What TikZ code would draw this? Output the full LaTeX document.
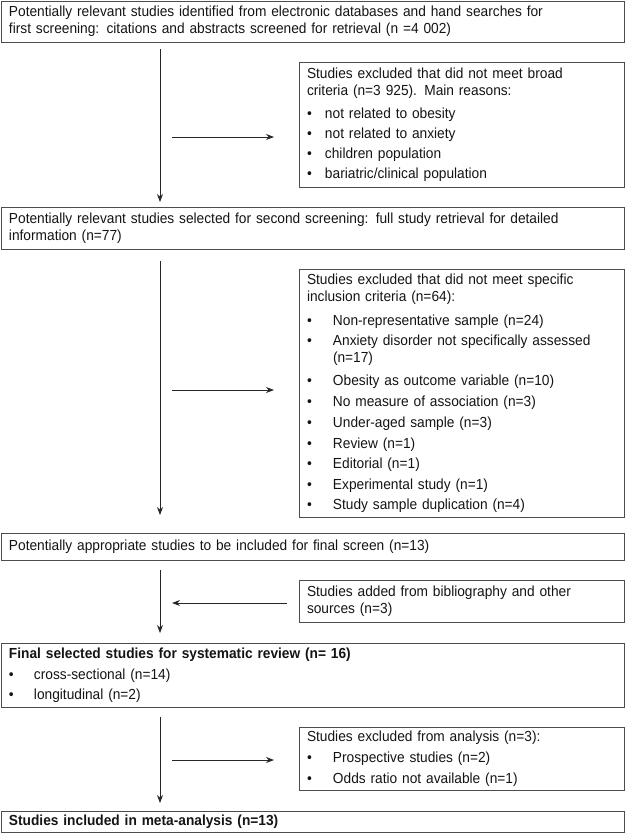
\documentclass[tikz,border=0pt]{standalone}
\usepackage{fontspec}
\setmainfont[FakeStretch=0.94]{Liberation Sans}
\usetikzlibrary{arrows.meta}
\newcommand{\bitem}[2]{\makebox[#1][l]{\textbullet}#2}
\begin{document}
\begin{tikzpicture}[x=1pt,y=-1pt,
  box/.style={draw=black!70, line width=0.9pt, inner xsep=8pt, inner ysep=0pt,
    outer sep=0pt, align=left, anchor=north west, text=black!92,
    font=\fontsize{14.6}{17}\selectfont},
  fullbox/.style={box, text width=607pt, minimum width=623pt},
  sidebox/.style={box, text width=309pt, minimum width=325pt},
  arr/.style={draw=black!85, line width=0.9pt, -{Stealth[length=8pt,width=6pt]}}]
\useasboundingbox (0,0) rectangle (625,833);

\coordinate (vx) at (160,0);

\node[fullbox, minimum height=41pt] (b1) at (1,1)
  {Potentially relevant studies identified from electronic databases and hand searches for\\
   first screening: citations and abstracts screened for retrieval (n =4 002)};

\node[sidebox, minimum height=125pt] (b2) at (299,62)
  {Studies excluded that did not meet broad\\
   criteria (n=3 925). Main reasons:\\[6pt]
   \bitem{18pt}{not related to obesity}\\[3pt]
   \bitem{18pt}{not related to anxiety}\\[3pt]
   \bitem{18pt}{children population}\\[3pt]
   \bitem{18pt}{bariatric/clinical population}};

\node[fullbox, minimum height=42pt] (b3) at (1,207)
  {Potentially relevant studies selected for second screening: full study retrieval for detailed\\
   information (n=77)};

\node[sidebox, minimum height=248pt] (b4) at (299,269)
  {Studies excluded that did not meet specific\\
   inclusion criteria (n=64):\\[7pt]
   \bitem{26pt}{Non-representative sample (n=24)}\\[3pt]
   \bitem{26pt}{Anxiety disorder not specifically assessed}\\
   \hspace*{26pt}(n=17)\\[6pt]
   \bitem{26pt}{Obesity as outcome variable (n=10)}\\[4pt]
   \bitem{26pt}{No measure of association (n=3)}\\[4pt]
   \bitem{26pt}{Under-aged sample (n=3)}\\[4pt]
   \bitem{26pt}{Review (n=1)}\\[3pt]
   \bitem{26pt}{Editorial (n=1)}\\[4pt]
   \bitem{26pt}{Experimental study (n=1)}\\[3pt]
   \bitem{26pt}{Study sample duplication (n=4)}};

\node[fullbox, minimum height=27pt] (b5) at (1,533)
  {Potentially appropriate studies to be included for final screen (n=13)};

\node[sidebox, minimum height=42pt] (b6) at (299,580)
  {Studies added from bibliography and other\\
   sources (n=3)};

\node[fullbox, minimum height=64pt] (b7) at (1,643)
  {\textbf{Final selected studies for systematic review (n= 16)}\\[4pt]
   \bitem{25pt}{cross-sectional (n=14)}\\[3pt]
   \bitem{25pt}{longitudinal (n=2)}};

\node[sidebox, minimum height=63pt] (b8) at (299,727)
  {Studies excluded from analysis (n=3):\\[4pt]
   \bitem{26pt}{Prospective studies (n=2)}\\[4pt]
   \bitem{26pt}{Odds ratio not available (n=1)}};

\node[fullbox, minimum height=21pt] (b9) at (1,811)
  {\textbf{Studies included in meta-analysis (n=13)}};

% main vertical arrows
\draw[arr, shorten <=7pt, shorten >=5pt] (b1.south -| vx) -- (b3.north -| vx);
\draw[arr, shorten <=12pt, shorten >=18pt] (b3.south -| vx) -- (b5.north -| vx);
\draw[arr, shorten <=10pt, shorten >=10pt] (b5.south -| vx) -- (b7.north -| vx);
\draw[arr, shorten <=10pt, shorten >=8pt] (b7.south -| vx) -- (b9.north -| vx);

% side arrows
\coordinate (h1) at (172,137);
\draw[arr, shorten >=25pt] (h1) -- (h1 -| b2.west);
\coordinate (h2) at (172,390);
\draw[arr, shorten >=25pt] (h2) -- (h2 -| b4.west);
\coordinate (h3) at (287,603);
\draw[arr, shorten >=12pt] (h3) -- (h3 -| vx);
\coordinate (h4) at (172,760);
\draw[arr, shorten >=25pt] (h4) -- (h4 -| b8.west);
\end{tikzpicture}
\end{document}
